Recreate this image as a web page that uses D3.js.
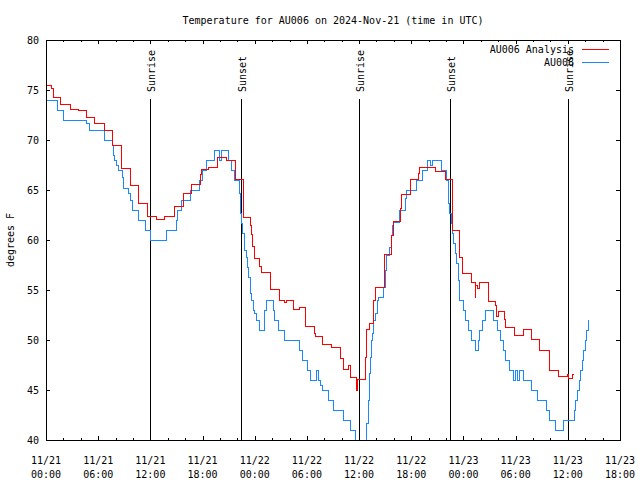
<!DOCTYPE html>
<html><head><meta charset="utf-8">
<script src="https://cdn.jsdelivr.net/npm/d3@7"></script>
<style>body{margin:0;background:#fff}text{font-family:"DejaVu Sans Mono",monospace;font-size:10px;fill:#000}</style>
</head><body>
<svg id="c" width="640" height="480"></svg>
<script>
const chartTitle = "Temperature for AU006 on 2024-Nov-21 (time in UTC)";
const yLabel = "degrees F";
const startTime = "2024-11-21T00:00:00Z";
const endTime = "2024-11-23T18:00:00Z";
const seriesNames = ["AU006 Analysis", "AU006"];
const seriesColors = ["#ff0000", "#1a88ff"];

// hours since start, value (°F) at each change point
const analysisHours = [0,0.65,0.84,1.69,2.76,3.72,4.68,5.63,6.67,7.67,8.7,9.66,10.69,11.65,12.72,13.68,14.83,15.79,16.75,17.71,17.9,18.66,19.7,20.77,21.8,22.69,23.46,23.6,23.75,24.0,24.5,24.8,25.76,26.83,27.4,27.6,28.5,29.1,29.86,30.82,31.0,31.81,32.85,33.88,34.26,34.76,35.03,35.72,35.8,36.76,36.85,37.14,37.71,37.9,38.9,39.75,39.94,40.78,40.9,41.93,42.81,42.89,44.84,45.88,46.76,47.53,47.6,47.87,48.87,49.33,49.44,49.6,49.8,50.86,51.74,51.85,52.0,52.7,52.89,53.85,54.89,55.84,56.8,57.87,58.9,59.98,60.13,60.52,60.71];
const analysisTemps = [75.5,75.2,74.3,73.6,73.1,73.0,72.3,71.7,71.0,69.5,67.2,65.5,63.7,62.4,62.1,62.4,63.4,64.7,65.6,66.6,67.1,67.3,68.3,68.0,66.1,62.3,61.5,60.6,59.4,58.2,57.4,56.8,55.1,54.0,53.8,54.0,53.1,53.3,51.4,50.7,50.4,49.6,49.3,48.2,47.1,47.5,46.3,45.0,46.1,48.3,51.1,51.7,54.0,55.3,58.6,60.5,61.9,63.2,64.6,66.1,66.7,67.3,66.9,66.1,61.0,59.3,58.3,56.7,55.8,54.3,55.5,55.2,55.8,53.9,53.5,52.4,52.9,52.1,51.3,50.5,51.1,50.1,49.0,47.0,46.4,46.6,46.2,46.6,46.6];

const obsHours = [0,1.3,2.0,4.68,4.98,6.67,6.78,7.67,7.74,7.93,8.12,8.32,8.78,8.89,9.47,9.66,9.97,10.62,11.46,12.04,13.88,14.95,15.1,15.6,16.56,17.63,18.0,18.4,19.43,19.95,20.15,21.0,21.3,21.65,22.23,22.38,22.5,22.61,22.77,22.88,23.07,23.19,23.34,23.46,23.53,23.65,23.84,24.03,24.22,24.53,25.18,25.37,26.14,26.33,26.79,27.48,29.13,29.51,30.05,30.43,31.12,31.31,31.58,31.81,32.46,33.11,34.26,35.03,35.53,35.7,36.68,36.87,37.06,37.18,37.33,37.45,37.56,37.71,37.9,38.1,38.21,38.79,38.98,39.17,39.55,39.75,39.86,39.94,40.7,41.28,41.47,42.62,43.31,43.85,44.2,44.4,45.5,46.07,46.26,46.45,46.57,46.76,46.91,47.07,47.22,47.41,47.6,47.99,48.18,48.56,48.95,49.33,49.71,49.9,50.21,50.48,51.43,51.89,52.28,52.66,52.86,53.35,53.81,54.04,54.19,54.5,54.96,55.84,56.53,57.57,57.87,58.53,59.48,60.82,60.94,61.13,61.32,61.48,61.67,61.86,61.98,62.17,62.36];
const obsTemps = [74,73,72,71.7,71,70.6,70,69.5,68.5,68,67.5,67,66.3,65.2,64.7,64,63,62,61,60,61,62,63,64,65,66,67,68,69,68,69,68,67,66,64.7,62.7,61.7,60.7,60,59,58.3,57.3,56.3,55.7,54.7,54,53,52.7,52,51,53,54,53,52,51,50,49,48,47,46,47,46,45.5,45,44,43,42,41,40,38,40,41.7,44,46.7,48.3,50,50.7,52,52.7,54,54.3,55.3,57,58.5,59.3,60.5,61.5,61.8,63,64.2,65,66,67,68,67.5,68,67,66,63.7,62.7,61.7,60.7,59.7,58.7,57.7,56,54,53,52,51,50,49,50,51,52,53,52,51,50,49,48,47,46,47,46,47,46,45,44,43,42,41,42,43,44,45,46,47,48,49,50,51,52];

const sunEventNames = ["Sunrise", "Sunset", "Sunrise", "Sunset", "Sunrise"];
const sunEventHours = [12.0, 22.46, 36.02, 46.48, 60.05];
const yTicks = [40, 45, 50, 55, 60, 65, 70, 75, 80];

const t0 = new Date(startTime), t1 = new Date(endTime);
const toDate = h => new Date(t0.getTime() + h * 3600000);
const L = 46, R = 620, T = 40, B = 440;
const svg = d3.select("#c");
const x = d3.scaleUtc().domain([t0, t1]).range([L, R]);
const y = d3.scaleLinear().domain([40, 80]).range([B, T]);

svg.append("defs").append("clipPath").attr("id", "clip")
  .append("rect").attr("x", L).attr("y", T).attr("width", R - L).attr("height", B - T);

svg.append("text").attr("x", (L + R) / 2).attr("y", 24).attr("text-anchor", "middle").text(chartTitle);
svg.append("text").attr("transform", `translate(14,${(T + B) / 2}) rotate(-90)`).attr("text-anchor", "middle").text(yLabel);

function tickAxis(axisFn, transform, interval, size) {
  const g = svg.append("g").attr("transform", transform)
    .call(axisFn.ticks(interval).tickSize(size).tickFormat(""));
  g.select(".domain").remove();
  g.selectAll("line").attr("stroke", "#000").attr("shape-rendering", "crispEdges");
  return g;
}
tickAxis(d3.axisBottom(x), `translate(0,${B})`, d3.utcHour.every(6), -4);
tickAxis(d3.axisBottom(x), `translate(0,${B})`, d3.utcHour.every(2), -2);
tickAxis(d3.axisTop(x), `translate(0,${T})`, d3.utcHour.every(6), -4);
tickAxis(d3.axisTop(x), `translate(0,${T})`, d3.utcHour.every(2), -2);
{
  const gl = svg.append("g").attr("transform", `translate(${L},0)`).call(d3.axisLeft(y).tickValues(yTicks).tickSize(-4).tickFormat(""));
  gl.select(".domain").remove(); gl.selectAll("line").attr("stroke", "#000").attr("shape-rendering", "crispEdges");
  const gr = svg.append("g").attr("transform", `translate(${R},0)`).call(d3.axisRight(y).tickValues(yTicks).tickSize(-4).tickFormat(""));
  gr.select(".domain").remove(); gr.selectAll("line").attr("stroke", "#000").attr("shape-rendering", "crispEdges");
}
const xTickDates = x.ticks(d3.utcHour.every(6));
const fmtD = d3.utcFormat("%m/%d"), fmtT = d3.utcFormat("%H:%M");
xTickDates.forEach(d => {
  svg.append("text").attr("x", x(d)).attr("y", 464).attr("text-anchor", "middle").text(fmtD(d));
  svg.append("text").attr("x", x(d)).attr("y", 478).attr("text-anchor", "middle").text(fmtT(d));
});
yTicks.forEach(v => {
  svg.append("text").attr("x", 39).attr("y", y(v) + 4).attr("text-anchor", "end").text(v);
});

sunEventHours.forEach((h, i) => {
  const xp = Math.round(x(toDate(h))) + 0.5;
  svg.append("line").attr("x1", xp).attr("x2", xp).attr("y1", B).attr("y2", 99)
    .attr("stroke", "#000").attr("stroke-width", 1).attr("shape-rendering", "crispEdges");
  svg.append("text").attr("transform", `translate(${xp + 4},92) rotate(-90)`).attr("text-anchor", "start").text(sunEventNames[i]);
});

const line = d3.line().x(d => x(d.t)).y(d => y(d.v)).curve(d3.curveStepAfter);
const analysis = analysisHours.map((h, i) => ({ t: toDate(h), v: analysisTemps[i] }));
const obs = obsHours.map((h, i) => ({ t: toDate(h), v: obsTemps[i] }));
const dg = svg.append("g").attr("clip-path", "url(#clip)");
dg.append("path").datum(obs).attr("d", line).attr("fill", "none").attr("stroke", seriesColors[1])
  .attr("stroke-width", 1).attr("shape-rendering", "crispEdges");
dg.append("path").datum(analysis).attr("d", line).attr("fill", "none").attr("stroke", seriesColors[0])
  .attr("stroke-width", 1).attr("shape-rendering", "crispEdges");

seriesNames.forEach((n, i) => {
  const ly = 49 + i * 13;
  svg.append("text").attr("x", 574).attr("y", ly + 4).attr("text-anchor", "end").text(n);
  svg.append("line").attr("x1", 582).attr("x2", 609).attr("y1", ly + 0.5).attr("y2", ly + 0.5)
    .attr("stroke", seriesColors[i]).attr("stroke-width", 1).attr("shape-rendering", "crispEdges");
});

svg.append("rect").attr("x", L + 0.5).attr("y", T + 0.5).attr("width", R - L).attr("height", B - T)
  .attr("fill", "none").attr("stroke", "#000").attr("stroke-width", 1).attr("shape-rendering", "crispEdges");
</script>
</body></html>
